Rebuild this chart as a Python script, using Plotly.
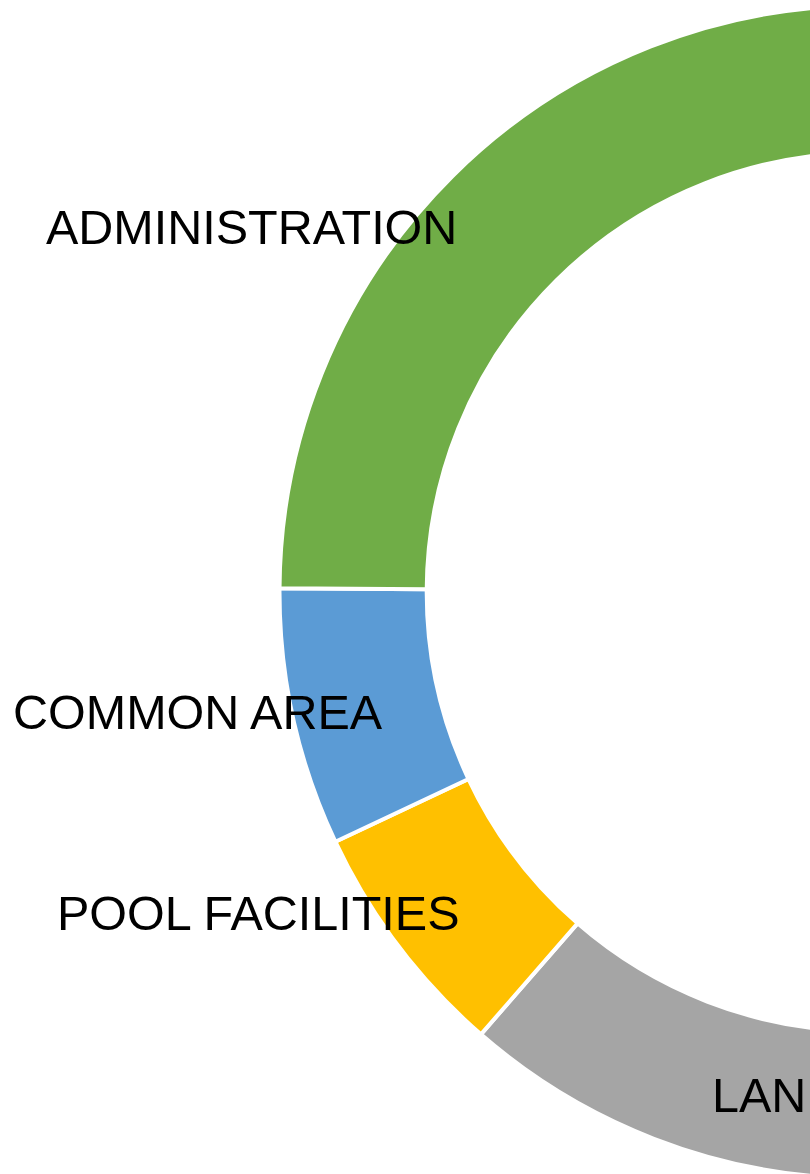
import plotly.graph_objects as go

# 슬라이스 (12시 방향부터 시계방향)
labels = ["MAINTENANCE", "UTILITIES", "LANDSCAPING", "POOL FACILITIES", "COMMON AREA", "ADMINISTRATION"]
values = [20.0, 18.6, 22.8, 6.6, 7.1, 24.9]
colors = ["#4472C4", "#ED7D31", "#A5A5A5", "#FFC000", "#5B9BD5", "#70AD47"]

# 라벨 텍스트 (보이는 부분만)
label_text = ["ADMINISTRATION", "COMMON AREA", "POOL FACILITIES", "LANDSCAPING"]

# canvas: 도넛 중심이 화면 오른쪽 밖에 있어서 figure를 넓게 잡음
W, H = 1732, 1184
R = 586.5

fig = go.Figure()
fig.add_trace(go.Pie(
    labels=labels,
    values=values,
    hole=0.749,
    sort=False,
    direction="clockwise",
    rotation=0,
    marker=dict(colors=colors, line=dict(color="white", width=4)),
    textinfo="none",
    hoverinfo="skip",
    domain=dict(x=[0, 1], y=[(H / 2 - R) / H, (H / 2 + R) / H]),
))

# label 위치 (px)
ann_pos = [
    (251, 227, "center"),
    (198, 712, "center"),
    (258, 913, "center"),
    (710, 1095, "left"),
]
for txt, (px, py, anc) in zip(label_text, ann_pos):
    fig.add_annotation(
        x=px / W, y=1 - py / H, xref="paper", yref="paper",
        text=txt, showarrow=False, xanchor=anc, yanchor="middle",
        font=dict(family="Liberation Sans, Arial", size=48.5, color="black"),
    )

fig.update_layout(
    width=W, height=H, autosize=False,
    margin=dict(l=0, r=0, t=0, b=0),
    paper_bgcolor="white", plot_bgcolor="white",
    showlegend=False,
)

# body 기본 margin(8px) / 스크롤바 제거
fig.write_html(
    "out.html",
    post_script="document.body.style.margin='0';document.body.style.overflow='hidden';",
)
